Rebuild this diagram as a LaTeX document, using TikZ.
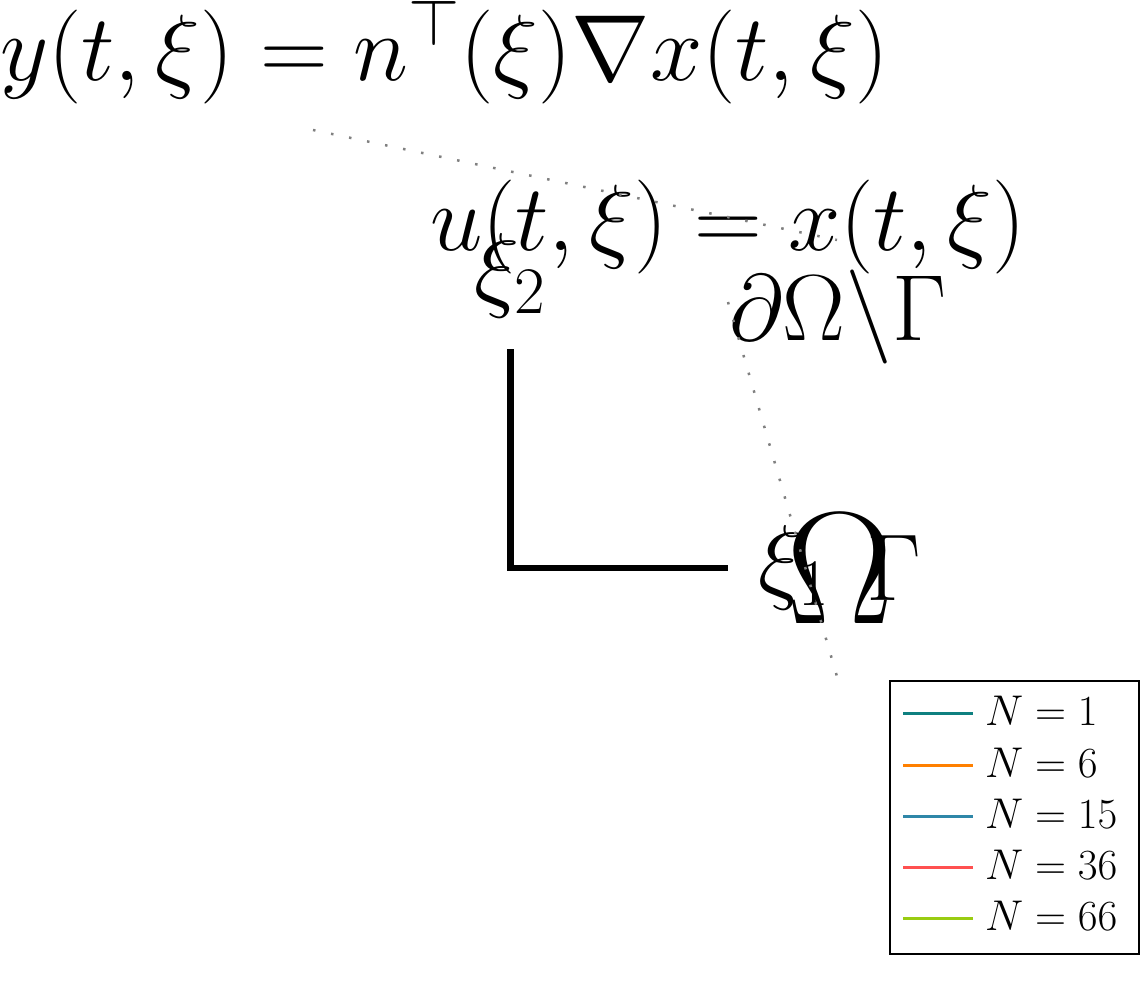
\RequirePackage{fix-cm}
\documentclass[tikz,border=0pt]{standalone}
\definecolor{cA}{RGB}{15,128,128}
\definecolor{cB}{RGB}{255,128,0}
\definecolor{cC}{RGB}{47,135,168}
\definecolor{cD}{RGB}{255,80,80}
\definecolor{cE}{RGB}{153,204,17}
\definecolor{dotgray}{RGB}{128,128,128}
\tikzset{
  lbl/.style={inner sep=0pt, outer sep=0pt, anchor=base west},
  big/.style={lbl, font=\fontsize{94}{110}\selectfont},
  leader/.style={draw=dotgray, line width=2.5pt, dash pattern=on 2.5pt off 15.9pt},
  axisline/.style={line width=6.5pt, line cap=butt},
  legline/.style={line width=3pt},
  legtext/.style={lbl, font=\fontsize{43}{50}\selectfont},
}
\begin{document}
\begin{tikzpicture}[x=1pt,y=-1pt]
\useasboundingbox (0,0) rectangle (1140,989);
% formulas
\node[big] (ytext) at (0,80) {$y(t,\xi)=n^{\top}(\xi)\nabla x(t,\xi)$};
\node[big] (utext) at (430,250) {$u(t,\xi)=x(t,\xi)$};
\node[big, font=\fontsize{95}{110}\selectfont] (xi2) at (474,299) {$\xi_2$};
\node[big] (dOG) at (729,340) {$\partial\Omega\backslash\Gamma$};
\node[big, font=\fontsize{95}{110}\selectfont] (xi1) at (758,591) {$\xi_1$};
\node[big, font=\fontsize{160}{180}\selectfont] (Om) at (786,623) {$\Omega$};
\node[big, font=\fontsize{95}{110}\selectfont] (Ga) at (866,600) {$\Gamma$};
% leaders
\coordinate (l1a) at (313,130);
\coordinate (l1b) at (837,240);
\coordinate (l2a) at (728,302);
\coordinate (l2b) at (838,680);
\draw[leader] (l1a) -- (l1b);
\draw[leader] (l2a) -- (l2b);
% axes
\coordinate (ax0) at (510.5,568);
\coordinate (axy) at (510.5,349);
\coordinate (axx) at (728,568);
\draw[axisline] (axy) -- (ax0) -- (axx);
% legend
\node[draw=black, line width=1.5pt, inner sep=0pt, minimum width=249pt, minimum height=273pt, anchor=north west] (legend) at (889,680) {};
\foreach \c/\n/\yy [count=\i] in {cA/1/713, cB/6/765, cC/15/816, cD/36/867, cE/66/918}{
  \coordinate (ls\i) at (903,\yy);
  \coordinate (le\i) at (973,\yy);
  \draw[legline, draw=\c] (ls\i) -- (le\i);
  \node[legtext] (lt\i) at (985,\yy+12) {$N=\n$};
}
\end{tikzpicture}
\end{document}
